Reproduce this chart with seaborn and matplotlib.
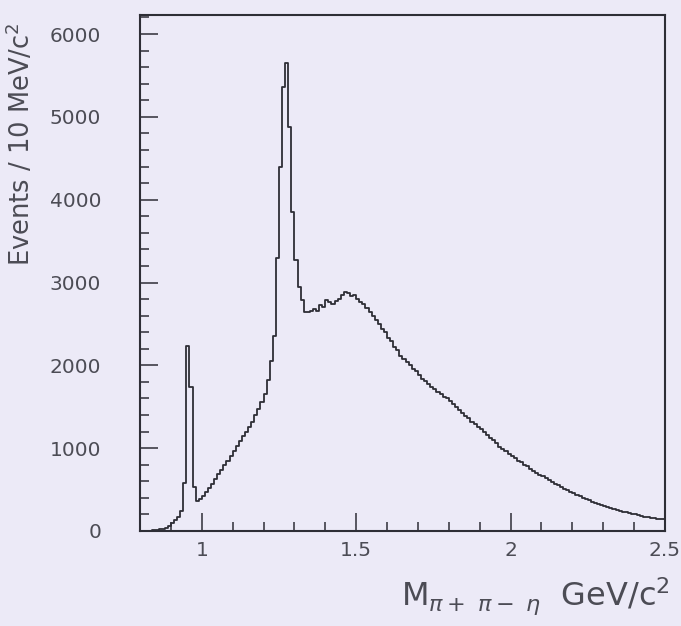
import numpy as np
import pandas as pd
import matplotlib
matplotlib.use("Agg")
import matplotlib.pyplot as plt
from matplotlib.ticker import MultipleLocator
import seaborn as sns

# Invariant mass spectrum, 10 MeV/c^2 bins from 0.80 to 2.50 GeV/c^2
bin_lo = 0.80
bin_hi = 2.50
bin_width = 0.01

counts_threshold = [0, 0, 0, 5, 10, 15, 20, 30, 40, 55,            # 0.80-0.89
                    100, 130, 170, 240, 580, 2230, 1740, 530, 360, 390]  # 0.90-0.99
counts_rise = [420, 470, 520, 570, 630, 690, 740, 800, 850, 900,    # 1.00-1.09
               970, 1030, 1090, 1150, 1200, 1260, 1320, 1400, 1470, 1560]  # 1.10-1.19
counts_f1 = [1660, 1820, 2050, 2350, 3300, 4400, 5360, 5650, 4880, 3850,  # 1.20-1.29
             3270, 2950, 2790, 2650, 2640, 2660, 2680, 2660, 2730, 2700]  # 1.30-1.39
counts_plateau = [2790, 2760, 2740, 2780, 2800, 2850, 2880, 2870, 2840, 2850,  # 1.40-1.49
                  2800, 2770, 2740, 2690, 2640, 2600, 2550, 2500, 2440, 2400,  # 1.50-1.59
                  2330, 2290, 2220, 2180, 2110, 2080, 2040, 2000, 1950, 1930]  # 1.60-1.69
counts_fall = [1880, 1840, 1810, 1780, 1740, 1710, 1680, 1650, 1620, 1600,  # 1.70-1.79
               1570, 1530, 1500, 1460, 1420, 1390, 1360, 1320, 1290, 1260,  # 1.80-1.89
               1230, 1190, 1160, 1120, 1100, 1060, 1020, 990, 960, 930]     # 1.90-1.99
counts_tail = [910, 880, 850, 830, 800, 780, 750, 720, 700, 680,   # 2.00-2.09
               660, 640, 610, 590, 570, 550, 530, 510, 495, 475,   # 2.10-2.19
               455, 440, 420, 400, 390, 370, 355, 340, 325, 310,   # 2.20-2.29
               300, 285, 275, 265, 255, 245, 235, 225, 215, 210,   # 2.30-2.39
               200, 190, 185, 175, 170, 160, 155, 150, 145, 140]   # 2.40-2.49

x_ticks = [1.0, 1.5, 2.0, 2.5]
x_tick_labels = ["1", "1.5", "2", "2.5"]
y_ticks = [0, 1000, 2000, 3000, 4000, 5000, 6000]
y_tick_labels = ["0", "1000", "2000", "3000", "4000", "5000", "6000"]

counts = np.array(counts_threshold + counts_rise + counts_f1 + counts_plateau
                  + counts_fall + counts_tail, dtype=float)
centers = bin_lo + bin_width * (np.arange(len(counts)) + 0.5)
df = pd.DataFrame({"mass": centers, "events": counts})

bg = "#eceaf7"
ink = "#2e2e36"
text_col = "#4c4c55"

sns.set_theme(style="white")
plt.rcParams["font.family"] = ["DejaVu Sans"]
plt.rcParams["mathtext.fontset"] = "dejavusans"

fig = plt.figure(figsize=(6.81, 6.26), dpi=100, facecolor=bg)
ax = fig.add_axes([140 / 681, 1 - 531 / 626, 525 / 681, 516 / 626], facecolor=bg)

sns.histplot(data=df, x="mass", weights="events",
             binwidth=bin_width, binrange=(bin_lo, bin_hi),
             element="step", fill=False, color=ink, linewidth=1.3, ax=ax)

ax.set_xlim(bin_lo, bin_hi)
ax.set_ylim(0, 6230)
ax.set_xlabel("")
ax.set_ylabel("")

ax.set_xticks(x_ticks)
ax.set_xticklabels(x_tick_labels)
ax.set_yticks(y_ticks)
ax.set_yticklabels(y_tick_labels)
ax.xaxis.set_minor_locator(MultipleLocator(0.1))
ax.yaxis.set_minor_locator(MultipleLocator(200))

ax.tick_params(which="both", direction="in", top=False, right=False,
               left=True, bottom=True, color=ink, width=1.1)
ax.tick_params(which="major", length=13)
ax.tick_params(which="minor", length=6.5)
ax.tick_params(axis="y", which="major", pad=28, labelsize=14.5, labelcolor=text_col)
ax.tick_params(axis="x", which="major", pad=7, labelsize=14.5, labelcolor=text_col)

for side in ["left", "right", "top", "bottom"]:
    ax.spines[side].set_visible(True)
    ax.spines[side].set_color(ink)
    ax.spines[side].set_linewidth(1.5)

fig.text(21 / 681, 1 - 144 / 626, "Events / 10 MeV/c$^2$", rotation=90,
         ha="center", va="center", fontsize=18.5, color=text_col)
fig.text(670 / 681, 1 - 596 / 626,
         r"M$_{\pi+\ \pi-\ \eta}$  GeV/c$^2$",
         ha="right", va="center", fontsize=23, color=text_col)

fig.savefig("out.png", dpi=100, facecolor=bg)
